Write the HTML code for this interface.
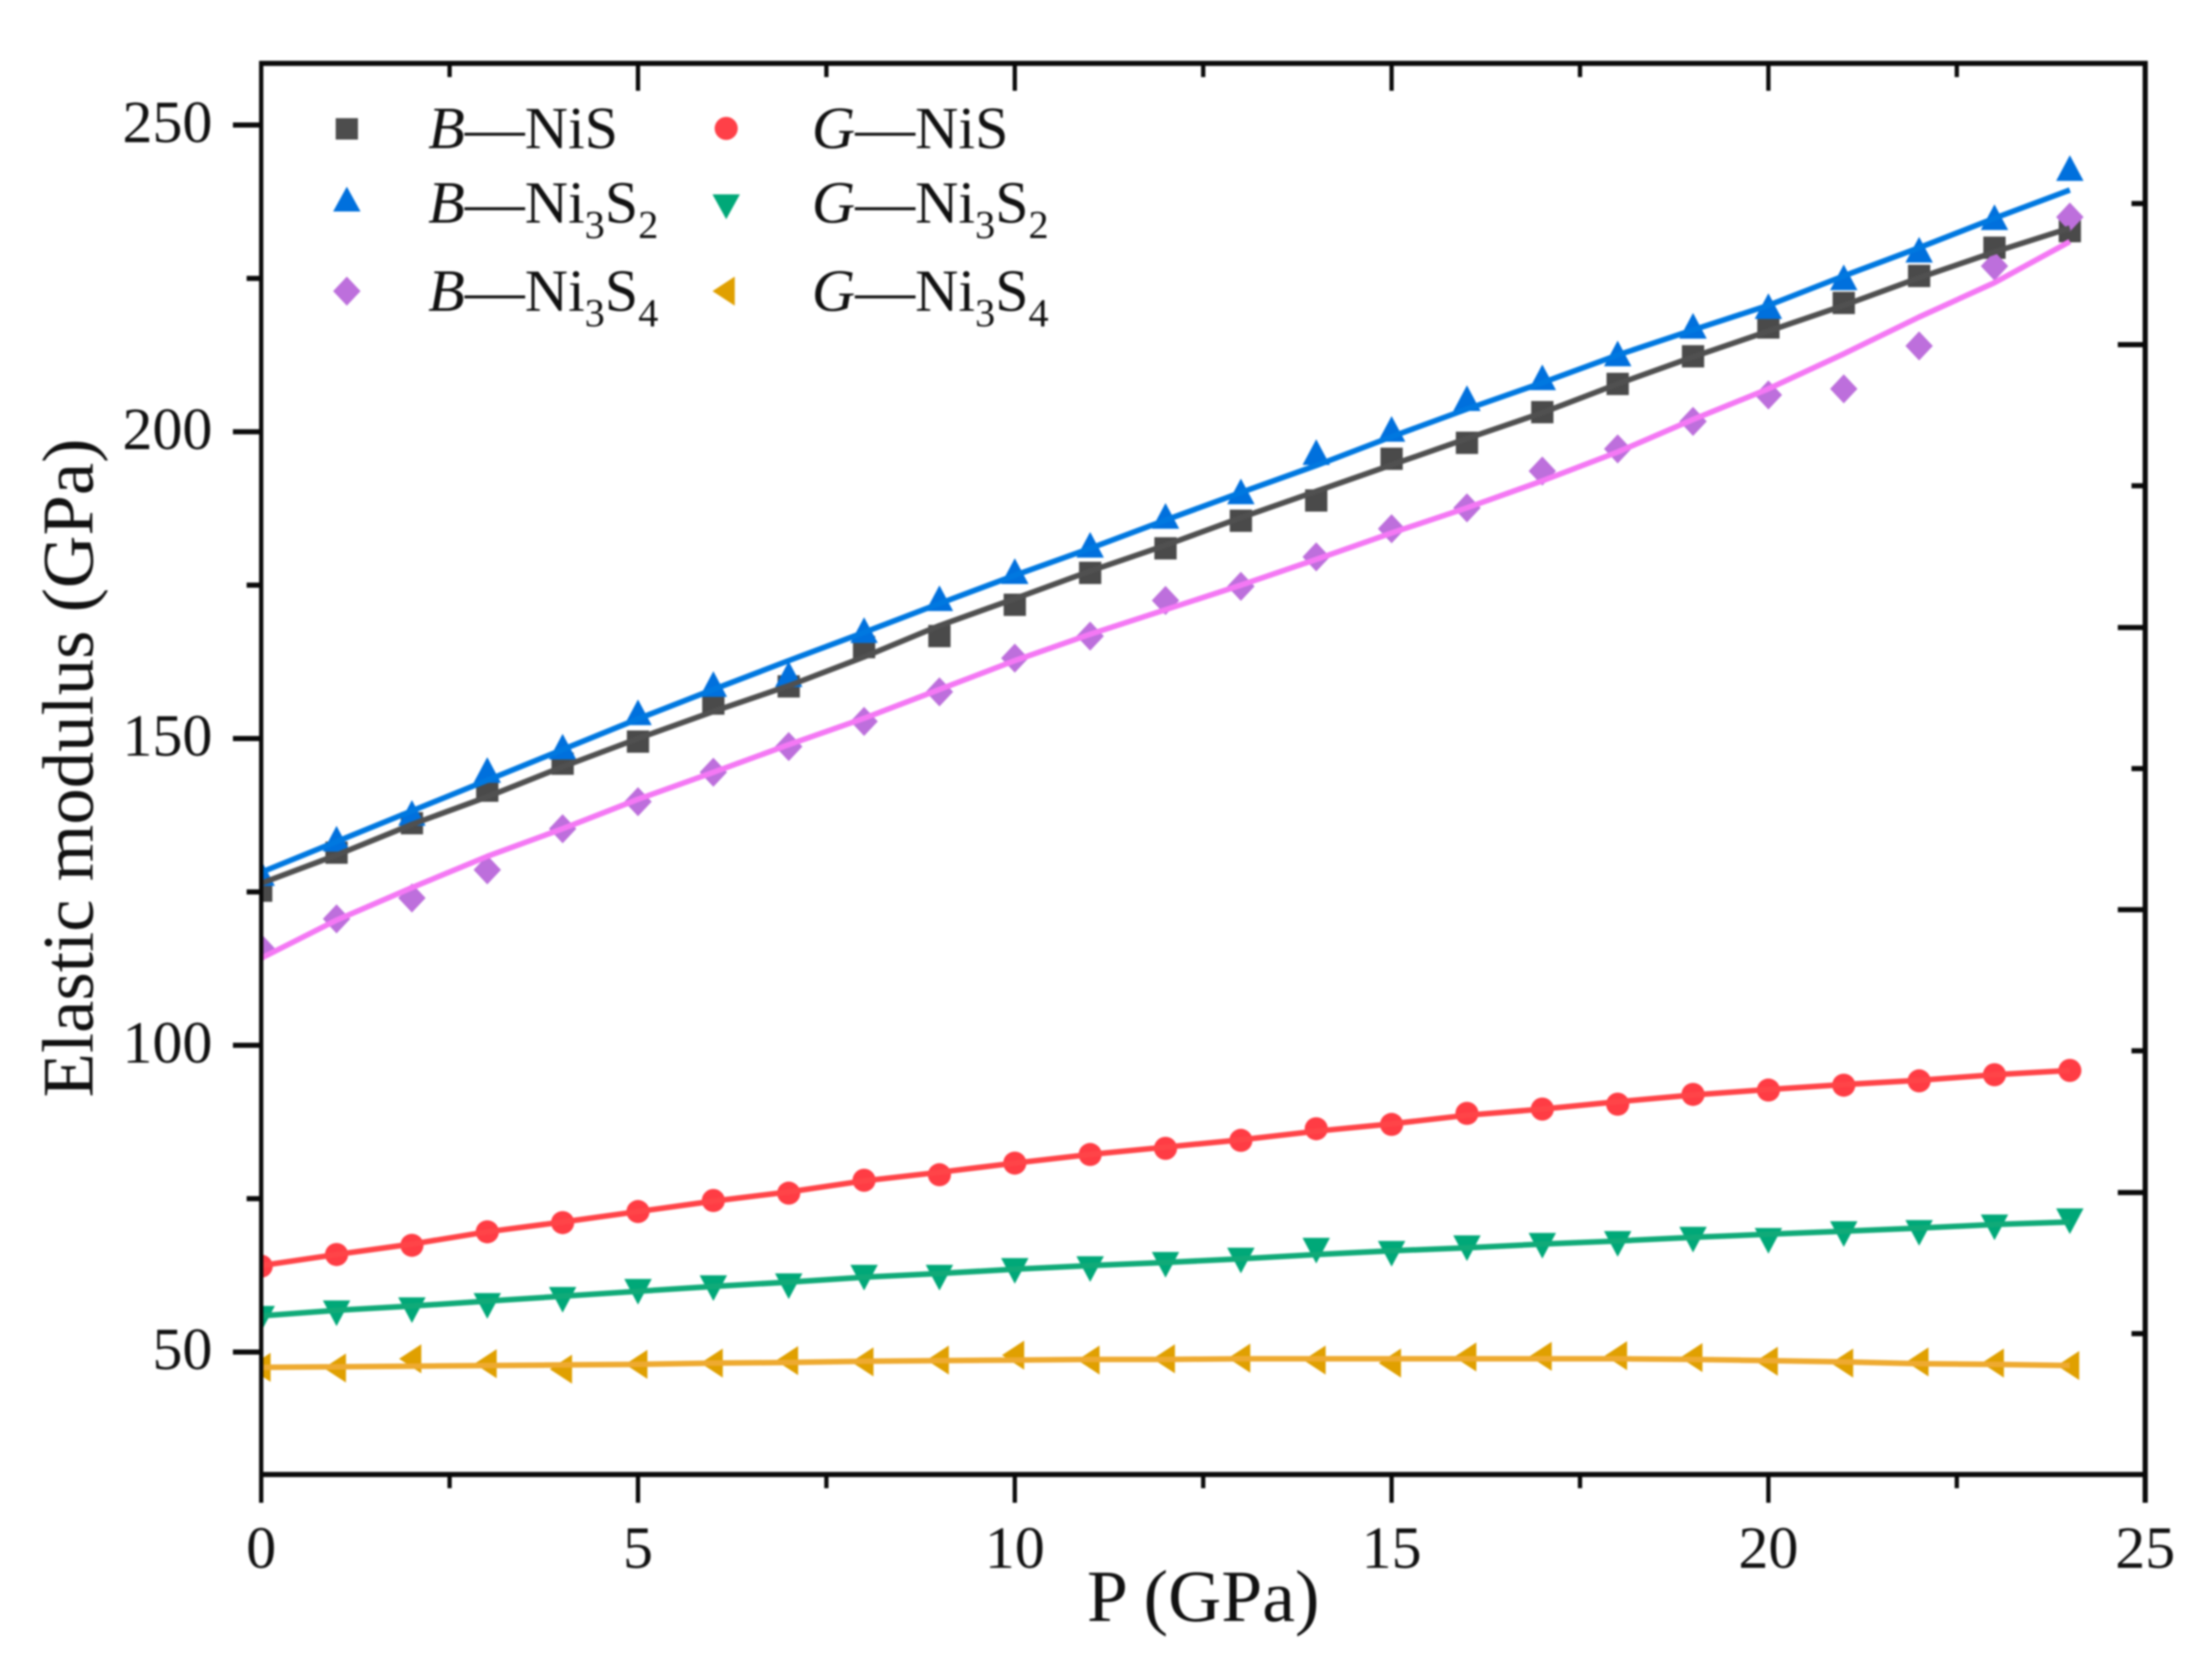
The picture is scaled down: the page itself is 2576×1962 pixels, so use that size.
<!DOCTYPE html>
<html lang="en">
<head>
<meta charset="utf-8">
<title>Elastic modulus vs pressure</title>
<style>
html,body{margin:0;padding:0;background:#fff;width:2576px;height:1962px;overflow:hidden}
svg{display:block;filter:blur(1px)}
text{font-family:"Liberation Serif",serif;fill:#111}
</style>
</head>
<body>
<svg id="chart" xmlns="http://www.w3.org/2000/svg" width="2576" height="1962" viewBox="0 0 2576 1962">
  <defs><clipPath id="plot-clip"><rect x="305" y="74" width="2200" height="1648"/></clipPath></defs>
  <rect width="2576" height="1962" fill="#fff"/>
  <g id="markers" clip-path="url(#plot-clip)"></g>
  <g id="fits" clip-path="url(#plot-clip)"></g>
  <g id="axes"></g>
  <text x="1405" y="1893" font-size="86" text-anchor="middle">P (GPa)</text>
  <text transform="translate(108 897) rotate(-90)" font-size="85" text-anchor="middle">Elastic modulus (GPa)</text>
  <g font-size="70">
    <text x="500" y="173"><tspan font-style="italic">B</tspan>—NiS</text>
    <text x="500" y="260"><tspan font-style="italic">B</tspan>—Ni<tspan font-size="47" dy="18">3</tspan><tspan dy="-18">S</tspan><tspan font-size="47" dy="18">2</tspan></text>
    <text x="500" y="363"><tspan font-style="italic">B</tspan>—Ni<tspan font-size="47" dy="18">3</tspan><tspan dy="-18">S</tspan><tspan font-size="47" dy="18">4</tspan></text>
    <text x="948" y="173"><tspan font-style="italic">G</tspan>—NiS</text>
    <text x="948" y="260"><tspan font-style="italic">G</tspan>—Ni<tspan font-size="47" dy="18">3</tspan><tspan dy="-18">S</tspan><tspan font-size="47" dy="18">2</tspan></text>
    <text x="948" y="363"><tspan font-style="italic">G</tspan>—Ni<tspan font-size="47" dy="18">3</tspan><tspan dy="-18">S</tspan><tspan font-size="47" dy="18">4</tspan></text>
    <rect x="392" y="138" width="26" height="25" fill="#4d4d4d"/>
    <polygon points="405,218 421,247 389,247" fill="#0070dd"/>
    <polygon points="405,323 421,340 405,357 389,340" fill="#bd6fdc"/>
    <circle cx="848" cy="150" r="13.5" fill="#ff4048"/>
    <polygon points="832,227 864,227 848,256" fill="#00a878"/>
    <polygon points="832,340 858,323 858,357" fill="#e0a000"/>
  </g>
</svg>
<script>
const pressures = [0,1,2,3,4,5,6,7,8,9,10,11,12,13,14,15,16,17,18,19,20,21,22,23,24];

const bNiS = [125.2,131.4,136.2,141.5,145.9,149.5,155.7,158.5,164.9,166.7,171.8,177,181,185.5,188.8,195.6,198.2,203.2,207.8,212.3,217,221,225.4,230,232.7];
const bNi3S2 = [127.8,133.4,137.6,144.6,148.4,154,158.6,160.2,167.4,172.6,177,181.3,186,190,196.4,200.2,205.2,208.6,212.5,217,220.2,224.9,229.4,234.7,242.7];
const bNi3S4 = [115.8,120.6,124,128.6,135.3,139.7,144.5,148.7,152.8,157.6,163.1,166.7,172.5,174.8,179.6,184.2,187.6,193.6,197.2,201.7,206,207,214,227,235];
const gNiS = [64,65.9,67.4,69.6,71.1,72.9,74.7,75.9,78,78.9,80.8,82.2,83.2,84.5,86.4,87.1,88.9,89.6,90.4,92,92.7,93.5,94.2,95.2,95.9];
const gNi3S2 = [55.7,56.6,57.1,57.8,58.8,60.1,60.7,61,62.4,62.4,63.5,63.8,64.5,65.2,66.8,66.3,67.2,67.6,67.9,68.6,68.4,69.5,69.7,70.6,71.6];
const gNi3S4 = [47.5,47.4,48.9,48.1,47.2,48,48.2,48.6,48.4,48.7,49.5,48.7,48.9,49,48.7,48.2,49.2,49.3,49.4,49.1,48.5,48.2,48.4,48.2,47.8];

const fitBNiS = [126.4,131,136,140.5,145.4,150,154.4,158.6,163.3,168.4,172.8,177.3,181.5,186,190.3,194.6,198.9,203.1,207.8,212.2,216.4,220.6,225.1,229.3,233.2];
const fitBNi3S2 = [128.2,133.2,138.2,143.2,148.2,153.2,158,162.7,167.3,172,176.6,181,185.6,190.1,194.5,199.2,203.7,208,212.5,216.6,220.6,225.4,230,234.8,239.4];
const fitBNi3S4 = [114.2,120.4,125.7,130.8,135.3,140.1,144.5,149,153.3,158,162.7,167,171,175,179.2,183.5,187.6,192,196.7,202,207,212.7,218.7,224.3,231];
const fitGNiS = [64.1,65.9,67.6,69.6,71.2,72.9,74.6,76.1,77.9,79.3,80.8,82.2,83.4,84.6,86,87.2,88.6,89.6,90.8,91.9,92.8,93.6,94.3,95.2,95.9];
const fitGNi3S2 = [55.9,56.8,57.5,58.3,59.1,59.9,60.7,61.4,62.2,62.8,63.5,64.1,64.6,65.2,65.9,66.5,67,67.6,68.1,68.7,69.2,69.7,70.2,70.8,71.2];
const fitGNi3S4 = [47.5,47.6,47.7,47.8,47.9,48,48.2,48.3,48.5,48.6,48.7,48.8,48.8,48.9,48.9,48.9,48.9,48.9,48.9,48.8,48.6,48.4,48.1,48,47.8];

const xMajorTicks = [0,5,10,15,20,25];
const xMinorTicks = [2.5,7.5,12.5,17.5,22.5];
const yMajorTicks = [50,100,150,200,250];
const yMinorTicks = [75,125,175,225];
const rightMajorTicks = [214.2,168.1,122.1,76.0];
const rightMinorTicks = [237.2,191.2,145.1,99.1,53.0];
const xTickLabels = ["0","5","10","15","20","25"];
const yTickLabels = ["50","100","150","200","250"];

const NS = 'http://www.w3.org/2000/svg';
const xScale = p => 305 + 88 * p;
const yScale = v => 146 + (250 - v) * 7.165;
const markersLayer = document.getElementById('markers');
const fitsLayer = document.getElementById('fits');
const axesLayer = document.getElementById('axes');

function drawTick(x1, y1, x2, y2, w, name) {
  const el = document.createElementNS(NS, 'line');
  el.setAttribute('x1', x1);
  el.setAttribute('y1', y1);
  el.setAttribute('x2', x2);
  el.setAttribute('y2', y2);
  el.setAttribute('stroke', '#0a0a0a');
  el.setAttribute('stroke-width', w);
  
  
  axesLayer.appendChild(el);
}

function drawLabel(x, y, anchor, str, name) {
  const el = document.createElementNS(NS, 'text');
  el.setAttribute('x', x);
  el.setAttribute('y', y);
  el.setAttribute('font-size', '70');
  el.setAttribute('text-anchor', anchor);
  el.textContent = str;
  
  
  axesLayer.appendChild(el);
}

function markerShape(kind, cx, cy, color) {
  let el;
  if (kind === 'square') {
    el = document.createElementNS(NS, 'rect');
    el.setAttribute('x', cx - 13);
    el.setAttribute('y', cy - 13);
    el.setAttribute('width', 26);
    el.setAttribute('height', 26);
  } else if (kind === 'circle') {
    el = document.createElementNS(NS, 'circle');
    el.setAttribute('cx', cx);
    el.setAttribute('cy', cy);
    el.setAttribute('r', 13.5);
  } else {
    el = document.createElementNS(NS, 'polygon');
    let pts;
    if (kind === 'up') pts = [[0,-17],[16,13],[-16,13]];
    if (kind === 'down') pts = [[-16,-13],[16,-13],[0,17]];
    if (kind === 'diamond') pts = [[0,-17],[16,0],[0,17],[-16,0]];
    if (kind === 'left') pts = [[-15,0],[11,-17],[11,17]];
    el.setAttribute('points', pts.map(p => (cx + p[0]) + ',' + (cy + p[1])).join(' '));
  }
  el.setAttribute('fill', color);
  return el;
}

function drawMarkers(values, kind, color, name) {
  const group = document.createElementNS(NS, 'g');
  
  
  values.forEach((v, i) => {
    const m = markerShape(kind, xScale(pressures[i]), yScale(v), color);
    
    
    group.appendChild(m);
  });
  markersLayer.appendChild(group);
}

function drawFit(values, color, name) {
  const el = document.createElementNS(NS, 'polyline');
  el.setAttribute('points', values.map((v, i) => xScale(pressures[i]) + ',' + yScale(v)).join(' '));
  el.setAttribute('fill', 'none');
  el.setAttribute('stroke', color);
  el.setAttribute('stroke-width', '6.5');
  el.setAttribute('stroke-linejoin', 'round');
  
  
  fitsLayer.appendChild(el);
}

drawMarkers(bNiS, 'square', '#4a4a4a', 'b-nis');
drawMarkers(bNi3S2, 'up', '#0070dd', 'b-ni3s2');
drawMarkers(bNi3S4, 'diamond', '#bd6fdc', 'b-ni3s4');
drawMarkers(gNiS, 'circle', '#ff3c44', 'g-nis');
drawMarkers(gNi3S2, 'down', '#00a878', 'g-ni3s2');
drawMarkers(gNi3S4, 'left', '#e0a000', 'g-ni3s4');

drawFit(fitBNiS, '#505050', 'b-nis');
drawFit(fitBNi3S2, '#0078e0', 'b-ni3s2');
drawFit(fitBNi3S4, '#f478f4', 'b-ni3s4');
drawFit(fitGNiS, '#ff4448', 'g-nis');
drawFit(fitGNi3S2, '#10aa78', 'g-ni3s2');
drawFit(fitGNi3S4, '#eeaa30', 'g-ni3s4');

xMajorTicks.forEach((t, i) => {
  drawTick(xScale(t), 1722, xScale(t), 1755, 5, 'x-major-tick');
  drawTick(xScale(t), 74, xScale(t), 106, 5, 'top-major-tick');
  drawLabel(xScale(t), 1831, 'middle', xTickLabels[i], 'x-tick-label');
});
xMinorTicks.forEach(t => {
  drawTick(xScale(t), 1722, xScale(t), 1738, 5, 'x-minor-tick');
  drawTick(xScale(t), 74, xScale(t), 90, 5, 'top-minor-tick');
});
yMajorTicks.forEach((t, i) => {
  drawTick(272, yScale(t), 305, yScale(t), 6, 'y-major-tick');
  drawLabel(248, yScale(t) + 20, 'end', yTickLabels[i], 'y-tick-label');
});
yMinorTicks.forEach(t => {
  drawTick(288, yScale(t), 305, yScale(t), 6, 'y-minor-tick');
});
rightMajorTicks.forEach(t => {
  drawTick(2473, yScale(t), 2505, yScale(t), 6, 'right-major-tick');
});
rightMinorTicks.forEach(t => {
  drawTick(2489, yScale(t), 2505, yScale(t), 6, 'right-minor-tick');
});

const frameTop = document.createElementNS(NS, 'line');
frameTop.setAttribute('x1', 303);
frameTop.setAttribute('y1', 74);
frameTop.setAttribute('x2', 2508);
frameTop.setAttribute('y2', 74);
frameTop.setAttribute('stroke', '#0a0a0a');
frameTop.setAttribute('stroke-width', 6);


axesLayer.appendChild(frameTop);

const frameBottom = document.createElementNS(NS, 'line');
frameBottom.setAttribute('x1', 303);
frameBottom.setAttribute('y1', 1722);
frameBottom.setAttribute('x2', 2508);
frameBottom.setAttribute('y2', 1722);
frameBottom.setAttribute('stroke', '#0a0a0a');
frameBottom.setAttribute('stroke-width', 6);


axesLayer.appendChild(frameBottom);

const frameLeft = document.createElementNS(NS, 'line');
frameLeft.setAttribute('x1', 305);
frameLeft.setAttribute('y1', 71);
frameLeft.setAttribute('x2', 305);
frameLeft.setAttribute('y2', 1755);
frameLeft.setAttribute('stroke', '#0a0a0a');
frameLeft.setAttribute('stroke-width', 5);


axesLayer.appendChild(frameLeft);

const frameRight = document.createElementNS(NS, 'line');
frameRight.setAttribute('x1', 2505);
frameRight.setAttribute('y1', 71);
frameRight.setAttribute('x2', 2505);
frameRight.setAttribute('y2', 1755);
frameRight.setAttribute('stroke', '#0a0a0a');
frameRight.setAttribute('stroke-width', 6);


axesLayer.appendChild(frameRight);
</script>
</body>
</html>
